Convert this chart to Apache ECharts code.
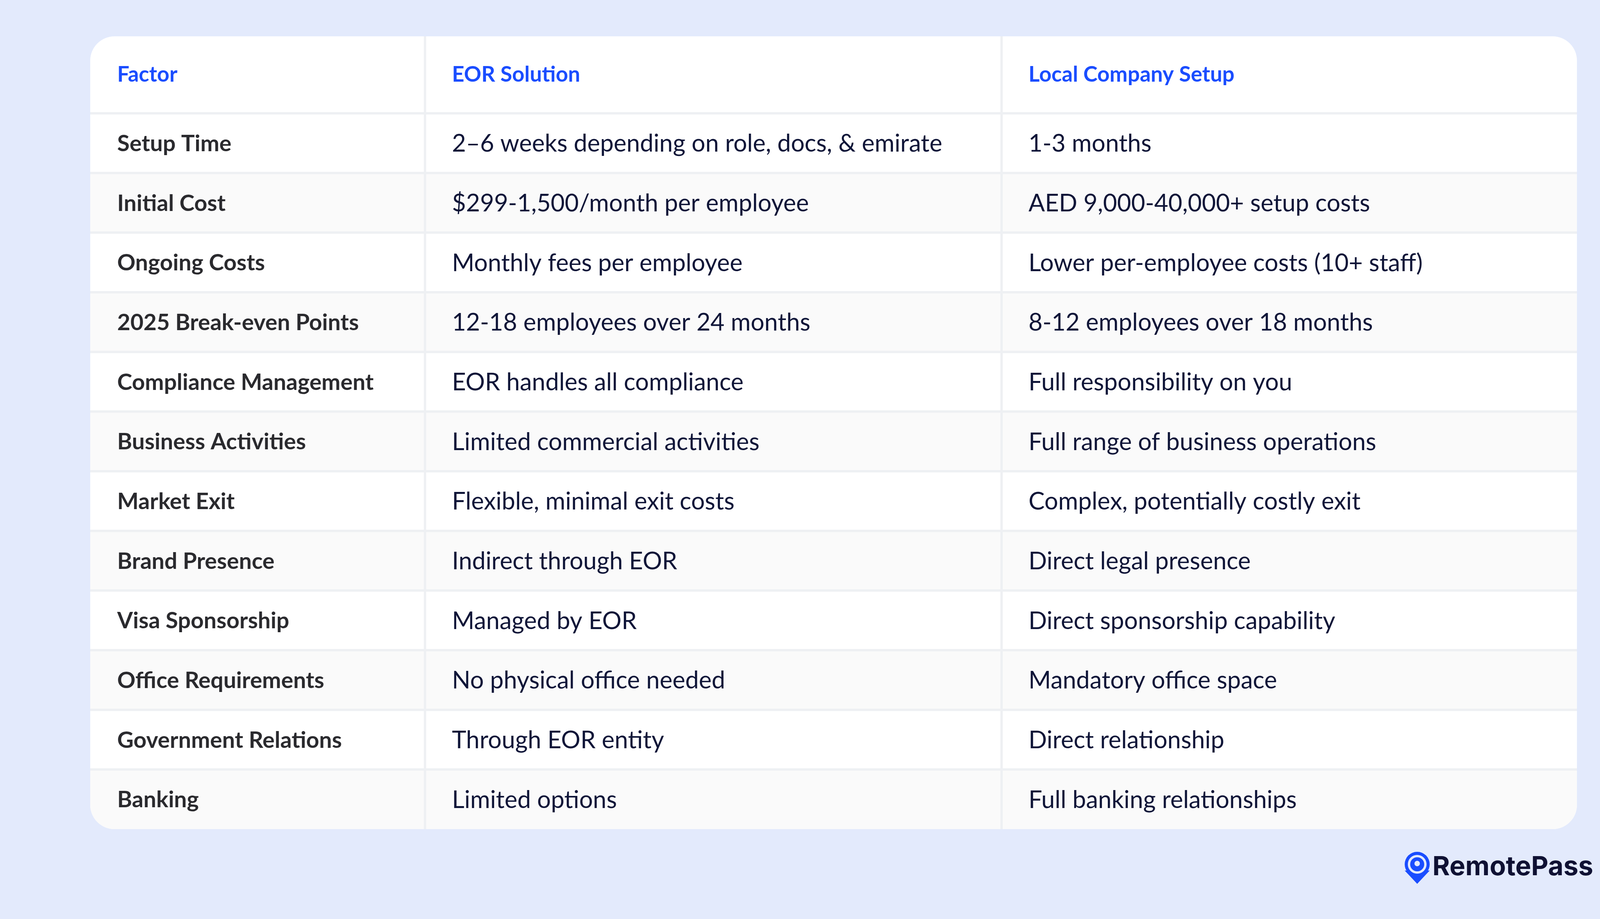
<!DOCTYPE html>
<html>
<head>
<meta charset="utf-8"/>
<script src="https://cdn.jsdelivr.net/npm/echarts@6/dist/echarts.min.js"></script>
<style>html,body{margin:0;background:#e3eafc;overflow:hidden}</style>
</head>
<body>
<div id="main" style="width:4200px;height:2352px"></div>
<script>
var headers = ['Factor', 'EOR Solution', 'Local Company Setup'];
var factors = ['Setup Time', 'Initial Cost', 'Ongoing Costs', '2025 Break-even Points', 'Compliance Management',
    'Business Activities', 'Market Exit', 'Brand Presence', 'Visa Sponsorship', 'Office Requirements',
    'Government Relations', 'Banking'];
var eorSolution = ['2\u20136 weeks depending on role, docs, & emirate', '$299-1,500/month per employee',
    'Monthly fees per employee', '12-18 employees over 24 months', 'EOR handles all compliance',
    'Limited commercial activities', 'Flexible, minimal exit costs', 'Indirect through EOR', 'Managed by EOR',
    'No physical office needed', 'Through EOR entity', 'Limited options'];
var localSetup = ['1-3 months', 'AED 9,000-40,000+ setup costs', 'Lower per-employee costs (10+ staff)',
    '8-12 employees over 18 months', 'Full responsibility on you', 'Full range of business operations',
    'Complex, potentially costly exit', 'Direct legal presence', 'Direct sponsorship capability',
    'Mandatory office space', 'Direct relationship', 'Full banking relationships'];

var myChart = echarts.init(document.getElementById('main'));
var L = 231, R = 4037, T = 93, B = 2122, HB = 290;
var colX = [L, 1088, 2564, R];
var rowH = (B - HB) / factors.length;
var font = 'Lato, "Noto Sans", sans-serif';
var els = [];

// card
els.push({type: 'rect', shape: {x: L, y: T, width: R - L, height: B - T, r: 62}, style: {fill: '#ffffff'}});
// alternating rows
factors.forEach(function (f, i) {
    if (i % 2 === 1) {
        var last = i === factors.length - 1;
        els.push({type: 'rect', shape: {x: L, y: HB + i * rowH, width: R - L, height: rowH,
            r: last ? [0, 0, 62, 62] : 0}, style: {fill: '#fafafa'}});
    }
});
// grid lines
for (var i = 0; i < factors.length; i++) {
    var y = HB + i * rowH;
    els.push({type: 'line', shape: {x1: L, y1: y, x2: R, y2: y}, style: {stroke: '#eef0f3', lineWidth: 6}});
}
[1, 2].forEach(function (c) {
    els.push({type: 'line', shape: {x1: colX[c], y1: T, x2: colX[c], y2: B}, style: {stroke: '#eef0f3', lineWidth: 6}});
});
// header
var textX = [300, 1157, 2633];
headers.forEach(function (h, c) {
    els.push({type: 'text', x: textX[c], y: (T + HB) / 2, style: {text: h, fill: '#1a4dff',
        font: 'bold 55px ' + font, textVerticalAlign: 'middle'}});
});
// body
var cols = [factors, eorSolution, localSetup];
cols.forEach(function (arr, c) {
    arr.forEach(function (t, i) {
        els.push({type: 'text', x: textX[c], y: HB + (i + 0.5) * rowH + 2, style: {text: t,
            fill: c === 0 ? '#2a2a2e' : '#0f1538',
            font: (c === 0 ? 'bold 58px ' : '62px ') + font, textVerticalAlign: 'middle'}});
    });
});
// logo
els.push({type: 'polygon', shape: {points: [[3596, 2228], [3660, 2228], [3628, 2262]]}, style: {fill: '#1a4dff'}});
els.push({type: 'circle', shape: {cx: 3628, cy: 2212, r: 32}, style: {fill: '#1a4dff'}});
els.push({type: 'circle', shape: {cx: 3628, cy: 2212, r: 24}, style: {fill: '#e3eafc'}});
els.push({type: 'circle', shape: {cx: 3628, cy: 2212, r: 18}, style: {fill: '#1a4dff'}});
els.push({type: 'circle', shape: {cx: 3628, cy: 2210, r: 7}, style: {fill: '#e3eafc'}});
els.push({type: 'text', x: 3667, y: 2220, style: {text: 'RemotePass', fill: '#0f1133',
    font: 'bold 68px Inter, "Noto Sans", sans-serif', textVerticalAlign: 'middle'}});

myChart.setOption({backgroundColor: '#e3eafc', graphic: {elements: els}});
</script>
</body>
</html>
